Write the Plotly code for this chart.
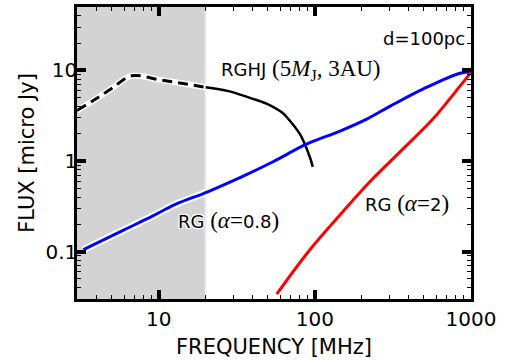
import numpy as np
import plotly.graph_objects as go

# ---- data ----
rghj_dash_x = [3, 4, 5, 6.7, 10, 14, 20]
rghj_dash_y = [3.6, 4.9, 6.3, 8.7, 7.9, 7.2, 6.5]
rghj_solid_x = [20, 28, 38, 49, 62, 69, 80, 84, 93, 97]
rghj_solid_y = [6.5, 5.9, 5.0, 4.3, 3.4, 2.8, 2.0, 1.7, 1.1, 0.86]

rg08_x = [3.3, 6.05, 9.0, 12.7, 20.6, 34, 54, 89, 145, 215, 302, 492, 850, 1000]
rg08_y = [0.105, 0.175, 0.243, 0.33, 0.457, 0.667, 0.98, 1.54, 2.14, 2.9, 4.0, 6.2, 9.3, 9.6]

rg2_x = [57, 93, 151, 225, 351, 570, 850, 1000]
rg2_y = [0.034, 0.105, 0.275, 0.59, 1.26, 2.9, 6.7, 9.5]

shade_x = [3, 20]
x_ticks = [10, 100, 1000]
x_ticktext = ["10", "100", "1000"]
y_ticks = [0.1, 1, 10]
y_ticktext = ["0.1", "1", "10"]

FONT = "DejaVu Sans"
SERIF = "Liberation Serif"
OUTLINE = "-1px -1px 0 #fff, 1px -1px 0 #fff, -1px 1px 0 #fff, 1px 1px 0 #fff, 0 0 3px #fff"

def minor_vals(lo, hi):
    out = []
    for k in range(lo, hi):
        for m in range(2, 10):
            out.append(m * 10.0 ** k)
    return out

fig = go.Figure()

# shaded region
fig.add_shape(type="rect", xref="x", yref="paper", x0=shade_x[0], x1=shade_x[1], y0=0, y1=1,
              fillcolor="#d3d3d3", line=dict(width=0), layer="below")
fig.add_shape(type="line", xref="x", yref="paper", x0=shade_x[1], x1=shade_x[1], y0=0, y1=1,
              line=dict(color="#efefef", width=2), layer="below")

# white under-strokes (xkcd style)
for xs, ys, w in [(rghj_dash_x, rghj_dash_y, 6), (rg08_x, rg08_y, 7)]:
    fig.add_trace(go.Scatter(x=xs, y=ys, mode="lines", line=dict(color="white", width=w, shape="spline"),
                             hoverinfo="skip", showlegend=False))

fig.add_trace(go.Scatter(x=rghj_dash_x, y=rghj_dash_y, mode="lines",
                         line=dict(color="black", width=3, dash="10px,6px", shape="spline"),
                         showlegend=False))
fig.add_trace(go.Scatter(x=rghj_solid_x, y=rghj_solid_y, mode="lines",
                         line=dict(color="black", width=2.5, shape="spline"), showlegend=False))
fig.add_trace(go.Scatter(x=rg08_x, y=rg08_y, mode="lines",
                         line=dict(color="#0000ff", width=3, shape="spline"), showlegend=False))
fig.add_trace(go.Scatter(x=rg2_x, y=rg2_y, mode="lines",
                         line=dict(color="#ff0000", width=3, shape="spline"), showlegend=False))

def ann(text, x, y, xanchor="left"):
    fig.add_annotation(text=text, x=x, y=y, xref="x", yref="y", xanchor=xanchor, yanchor="middle",
                       showarrow=False, borderpad=0,
                       font=dict(family=FONT, size=18, color="black", shadow=OUTLINE))

SER = "<span style='font-family:%s;font-size:23px'>" % SERIF
ann("RGHJ " + SER + "(5<i>M</i><sub>J</sub>, 3AU)</span>", np.log10(24.7), 1.0)
ann("d=100pc", np.log10(930), 1.347, xanchor="right")
ann("RG " + SER + "(<i>α</i>=</span>0.8" + SER + ")</span>", np.log10(13.1), -0.655)
ann("RG " + SER + "(<i>α</i>=</span>2" + SER + ")</span>", np.log10(205), -0.468)

axis_common = dict(
    type="log", showline=True, linecolor="black", linewidth=2.5, mirror="allticks", automargin=False,
    ticks="inside", ticklen=9, tickwidth=4, tickcolor="black", showgrid=False, zeroline=False,
    tickfont=dict(family=FONT, size=20, color="black"),
)

fig.update_xaxes(**axis_common, range=[np.log10(3), 3], tickvals=x_ticks, ticktext=x_ticktext,
                 minor=dict(ticks="inside", ticklen=4, tickwidth=1, tickcolor="black", showgrid=False,
                            tickvals=minor_vals(0, 3)),
                 title=dict(text="FREQUENCY [MHz]", font=dict(family=FONT, size=21, color="black"), standoff=10))
fig.update_yaxes(**axis_common, range=[np.log10(0.03), np.log10(50)], tickvals=y_ticks, ticktext=y_ticktext,
                 ticklabelstandoff=-7,
                 minor=dict(ticks="inside", ticklen=4, tickwidth=1, tickcolor="black", showgrid=False,
                            tickvals=minor_vals(-2, 2)),
                 title=dict(text="FLUX [micro Jy]", font=dict(family=FONT, size=21, color="black"), standoff=6))

fig.update_layout(width=506, height=360, margin=dict(l=77, r=35, t=7, b=61),
                  paper_bgcolor="white", plot_bgcolor="white")

fig.write_html("out.html", config={"displayModeBar": False},
               post_script="document.body.style.margin='0';")
